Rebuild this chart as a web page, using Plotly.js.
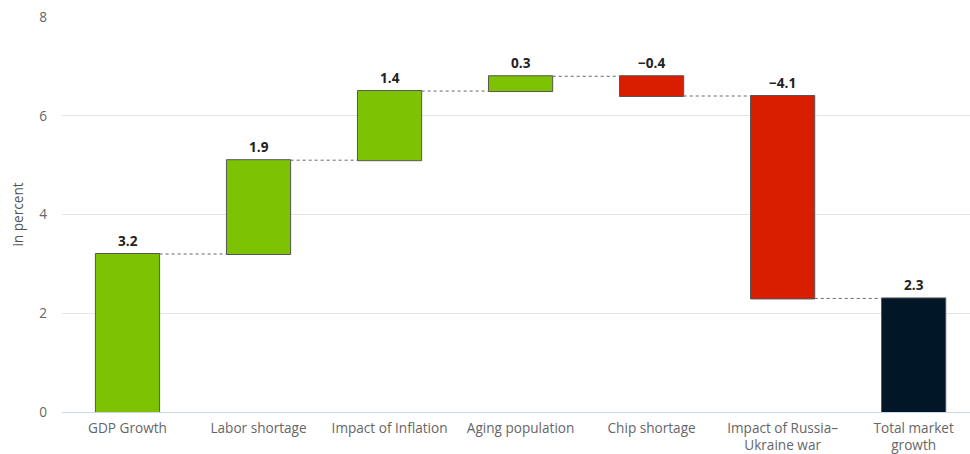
<!DOCTYPE html>
<html>
<head>
<meta charset="utf-8">
<script src="https://cdn.plot.ly/plotly-3.0.1.min.js"></script>
<style>
  html, body { margin: 0; padding: 0; background: #fff; }
  #chart { width: 970px; height: 454px; }
</style>
</head>
<body>
<div id="chart"></div>
<script>
// Contributions to market growth, in percent
const categories = [
  "GDP Growth",
  "Labor shortage",
  "Impact of Inflation",
  "Aging population",
  "Chip shortage",
  "Impact of Russia–<br>Ukraine war",
  "Total market<br>growth"
];
const values = [3.2, 1.9, 1.4, 0.3, -0.4, -4.1, 2.3];
const measures = ["relative", "relative", "relative", "relative", "relative", "relative", "total"];
const yTicks = [0, 2, 4, 6, 8];

const GREEN = "#7dc304";
const RED = "#d91e00";
const TOTAL = "#011627";
const FONT = "Open Sans, DejaVu Sans, sans-serif";

// Running level before/after each step, used to place the value labels
const tops = [];
let level = 0;
values.forEach((v, i) => {
  const m = measures[i];
  let start, end;
  if (m === "absolute") { start = 0; end = v; }
  else if (m === "total") { start = 0; end = level; }
  else { start = level; end = level + v; }
  level = end;
  tops.push(Math.max(start, end));
});

const fmt = v => (v < 0 ? "\u2212" + Math.abs(v).toFixed(1) : v.toFixed(1));

const trace = {
  type: "waterfall",
  x: categories,
  y: values,
  measure: measures,
  width: values.map(() => 0.49),
  textposition: "none",
  hoverinfo: "none",
  increasing: { marker: { color: GREEN, line: { color: "#555", width: 1 } } },
  decreasing: { marker: { color: RED, line: { color: "#555", width: 1 } } },
  totals: { marker: { color: TOTAL, line: { color: "#555", width: 1 } } },
  connector: { mode: "between", line: { color: "#666", width: 1, dash: "dot" } }
};

const annotations = categories.map((c, i) => ({
  x: c,
  y: tops[i],
  xref: "x",
  yref: "y",
  text: fmt(values[i]),
  showarrow: false,
  yanchor: "bottom",
  yshift: 2,
  font: { family: FONT, size: 13.6, color: "#222", weight: 700 }
}));

const layout = {
  width: 970,
  height: 454,
  margin: { l: 62, r: 0, t: 17, b: 42 },
  paper_bgcolor: "#fff",
  plot_bgcolor: "#fff",
  showlegend: false,
  font: { family: FONT, size: 13.6, color: "#666" },
  xaxis: {
    type: "category",
    range: [-0.5, 6.43],
    showgrid: false,
    showline: false,
    zeroline: false,
    ticks: "",
    ticklabelstandoff: 6,
    tickfont: { family: FONT, size: 13.6, color: "#666" },
    fixedrange: true
  },
  yaxis: {
    range: [0, 8],
    tickvals: yTicks,
    ticktext: yTicks.map(String),
    showgrid: true,
    gridcolor: "#e6e6e6",
    gridwidth: 1,
    zeroline: true,
    zerolinecolor: "#ccd6eb",
    zerolinewidth: 1,
    ticks: "",
    ticklabelstandoff: 14,
    tickfont: { family: FONT, size: 13.6, color: "#666" },
    title: { text: "in percent", font: { family: FONT, size: 13.6, color: "#555" }, standoff: 12 },
    fixedrange: true
  },
  annotations: annotations,
  bargap: 0.51
};

Plotly.newPlot("chart", [trace], layout, { displayModeBar: false, staticPlot: true });
</script>
</body>
</html>
